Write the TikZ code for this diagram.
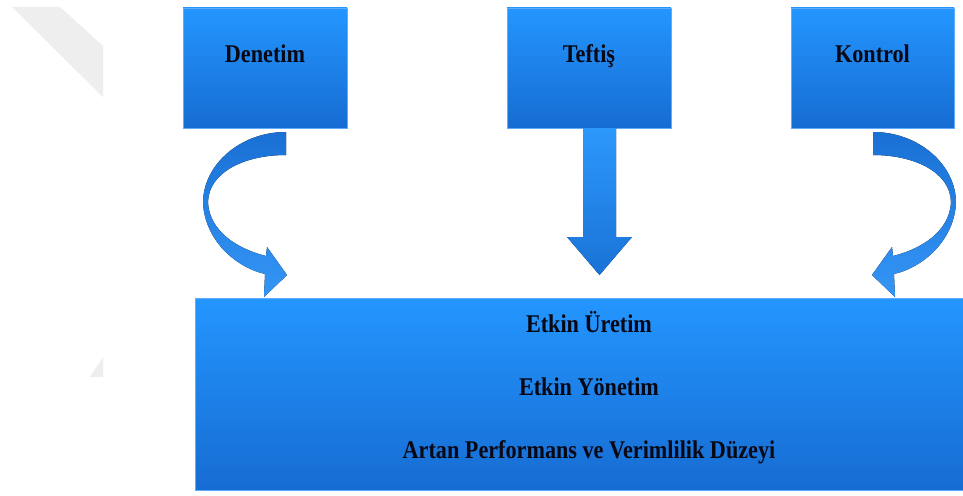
\documentclass[tikz,border=0pt]{standalone}
\usepackage{fontspec}
\setmainfont{Liberation Serif}[FakeStretch=0.87]
\begin{document}
\begin{tikzpicture}[x=1pt,y=-1pt,
  box/.style={rectangle, draw={rgb,255:red,95;green,172;blue,255}, line width=0.8pt,
    top color={rgb,255:red,36;green,150;blue,255},
    middle color={rgb,255:red,34;green,140;blue,248},
    bottom color={rgb,255:red,22;green,108;blue,210}, inner sep=0pt},
  lbl/.style={font=\fontsize{25.5}{25.5}\selectfont\bfseries, text={rgb,255:red,8;green,8;blue,20}, inner sep=0pt, anchor=base},
  curvefill/.style={top color={rgb,255:red,26;green,112;blue,212}, bottom color={rgb,255:red,52;green,150;blue,246}},
  straightfill/.style={top color={rgb,255:red,44;green,152;blue,252}, bottom color={rgb,255:red,26;green,114;blue,214}},
  wm/.style={fill={rgb,255:red,238;green,238;blue,238}}
]
\useasboundingbox (0,0) rectangle (963,495);
\clip (0,0) rectangle (963,495);
\fill[white] (0,0) rectangle (963,495);
% watermark fragment
\fill[wm] (12,7) -- (60,7) -- (103,46) -- (103,97) -- cycle;
\fill[wm] (103,357) -- (103,377) -- (90,377) -- cycle;

% top boxes
\node[box, minimum width=164, minimum height=120] (den) at (265,68) {};
\node[box, minimum width=164, minimum height=120] (tef) at (589,68) {};
\node[box, minimum width=163, minimum height=120] (kon) at (872.5,68) {};
\node[lbl] (denT) at ([yshift=-55]den.north) {Denetim};
\node[lbl] (tefT) at ([yshift=-55]tef.north) {Teftiş};
\node[lbl] (konT) at ([yshift=-55]kon.north) {Kontrol};

% bottom box
\node[box, minimum width=790, minimum height=192, anchor=north west] (res) at (195,298) {};
\node[lbl] (r1) at (589,332) {Etkin Üretim};
\node[lbl] (r2) at (589,395) {Etkin Yönetim};
\node[lbl] (r3) at (589,458) {Artan Performans ve Verimlilik Düzeyi};

% left curved arrow (Denetim)
\fill[curvefill] (286,132) .. controls (240,132) and (203,165) .. (203,203)
  .. controls (205,240) and (235,267) .. (265,274) -- (264,297) -- (287,275) -- (267,247) -- (266,256)
  .. controls (238,249) and (210,232) .. (208,203)
  .. controls (208,172) and (245,155) .. (286,155) -- cycle;

% right curved arrow (Kontrol), mirror image
\fill[curvefill] (873,132) .. controls (919,132) and (956,165) .. (956,203)
  .. controls (954,240) and (924,267) .. (894,274) -- (895,297) -- (872,275) -- (892,247) -- (893,256)
  .. controls (921,249) and (949,232) .. (951,203)
  .. controls (951,172) and (914,155) .. (873,155) -- cycle;

% straight arrow (Teftis)
\fill[straightfill] (583,128) -- (616,128) -- (616,237) -- (632,237) -- (599.5,275) -- (567,237) -- (583,237) -- cycle;
\end{tikzpicture}
\end{document}
